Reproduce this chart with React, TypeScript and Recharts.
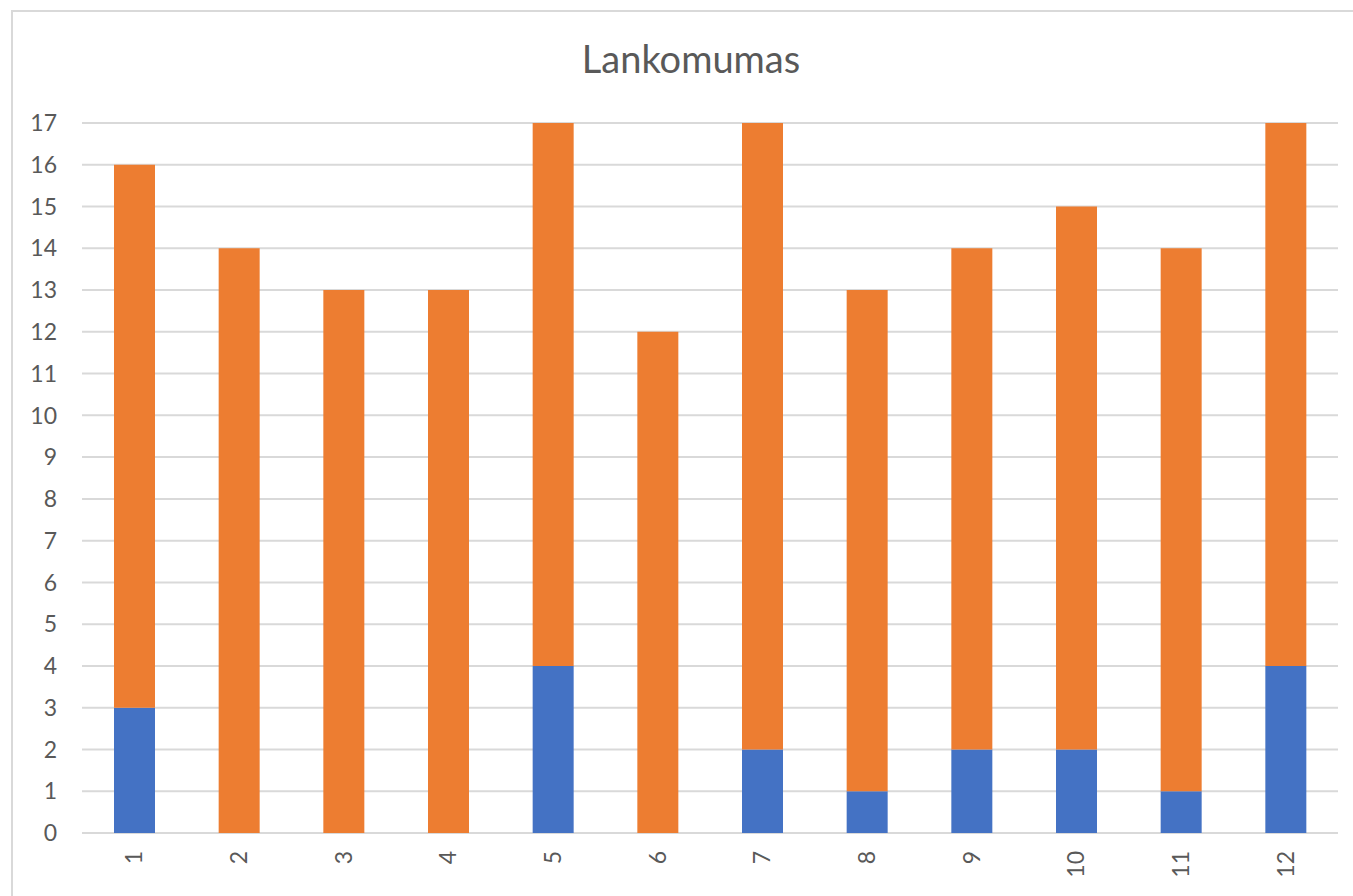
import React from 'react'
import { BarChart, Bar, XAxis, YAxis, CartesianGrid } from 'recharts'

const categories = ['1', '2', '3', '4', '5', '6', '7', '8', '9', '10', '11', '12']
const blueValues = [3, 0, 0, 0, 4, 0, 2, 1, 2, 2, 1, 4]
const orangeValues = [13, 14, 13, 13, 13, 12, 15, 12, 12, 13, 13, 13]
const yTicks = [0, 1, 2, 3, 4, 5, 6, 7, 8, 9, 10, 11, 12, 13, 14, 15, 16, 17]

const data = categories.map((name, i) => ({
    name,
    blue: blueValues[i],
    orange: orangeValues[i]
}))

const FONT = 'Lato, "Open Sans", sans-serif'
const TEXT_COLOR = '#595959'

/** Rotated category label, reading bottom-to-top */
function XTick(props: any) {
    const { x, y, payload } = props
    return (
        <g transform={`translate(${x},${y + 10})`}>
            <text
                transform="rotate(-90)"
                textAnchor="end"
                dy="0.35em"
                fill={TEXT_COLOR}
                fontSize={23}
                fontFamily={FONT}
            >
                {payload.value}
            </text>
        </g>
    )
}

export default function App() {
    return (
        <div style={{ position: 'absolute', left: 0, top: 0, width: 1353, height: 896, overflow: 'hidden', background: '#fff' }}>
            <div
                style={{
                    position: 'absolute',
                    left: 11,
                    top: 10,
                    width: 1360,
                    height: 900,
                    border: '2px solid #d9d9d9',
                    boxSizing: 'border-box'
                }}
            />
            <div
                style={{
                    position: 'absolute',
                    left: 0,
                    top: 39,
                    width: 1382,
                    textAlign: 'center',
                    fontFamily: FONT,
                    fontSize: 38,
                    lineHeight: 1,
                    color: TEXT_COLOR
                }}
            >
                Lankomumas
            </div>
            <div style={{ position: 'absolute', left: 0, top: 0 }}>
                <BarChart
                    width={1353}
                    height={896}
                    data={data}
                    margin={{ top: 123, right: 15, left: 32, bottom: 13 }}
                    barSize={41}
                >
                    <CartesianGrid vertical={false} stroke="#d9d9d9" strokeWidth={2} />
                    <XAxis
                        dataKey="name"
                        height={50}
                        axisLine={false}
                        tickLine={false}
                        interval={0}
                        tick={<XTick />}
                    />
                    <YAxis
                        width={50}
                        domain={[0, 17]}
                        ticks={yTicks}
                        interval={0}
                        axisLine={false}
                        tickLine={false}
                        tickMargin={19}
                        tick={{ fill: TEXT_COLOR, fontSize: 23, fontFamily: FONT }}
                    />
                    <Bar dataKey="blue" stackId="a" fill="#4472C4" isAnimationActive={false} />
                    <Bar dataKey="orange" stackId="a" fill="#ED7D31" isAnimationActive={false} />
                </BarChart>
            </div>
        </div>
    )
}
